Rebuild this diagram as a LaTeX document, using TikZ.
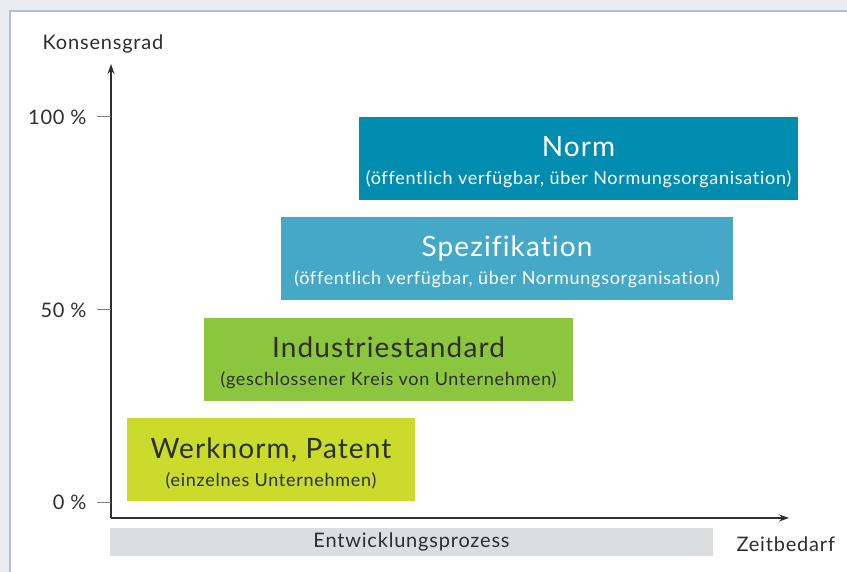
\documentclass[tikz,border=0pt]{standalone}
\usepackage{fontspec}
\setmainfont{Lato}[LetterSpace=4, Ligatures=NoCommon]
\usetikzlibrary{arrows.meta}

\definecolor{frameBg}{HTML}{E9EDF2}
\definecolor{frameLine}{HTML}{B4BFCC}
\definecolor{normBlue}{HTML}{008DB0}
\definecolor{specBlue}{HTML}{45A8C7}
\definecolor{industryGreen}{HTML}{8CC63F}
\definecolor{workLime}{HTML}{CADB2B}
\definecolor{barGray}{HTML}{DCDDDF}
\definecolor{textDark}{HTML}{2E2E2E}

\newcommand{\subline}[1]{{\fontsize{18}{20}\selectfont #1}}
\newcommand{\topstrut}{\rule{0pt}{28pt}}

\begin{document}
\begin{tikzpicture}[x=1pt, y=-1pt,
                    level/.style={minimum height=83pt, inner sep=0pt, align=center,
                                  font=\fontsize{28}{31}\selectfont},
                    axislabel/.style={text=textDark, font=\fontsize{20}{22}\selectfont}]

  % === Frame ===
  \useasboundingbox (0,0) rectangle (847,572);
  \clip (0,0) rectangle (847,572);
  \fill[frameBg] (0,0) rectangle (847,572);
  \draw[frameLine, fill=white, line width=1.5pt] (10,11) rectangle (880,600);

  % === Axes ===
  \coordinate (origin) at (111,518);
  \coordinate (ytip) at (111,64);
  \coordinate (xtip) at (789,518);

  \draw[textDark, line width=1.1pt, -{Stealth[length=10pt,width=7pt]}] (origin) -- (ytip);
  \draw[textDark, line width=1.1pt, -{Stealth[length=10pt,width=7pt]}] (origin) -- (xtip);

  \node[axislabel] (consensus) at (103,44) {Konsensgrad};
  \node[axislabel, anchor=west] (timeneed) at (733,544) {Zeitbedarf};

  % ticks on the consensus axis
  \foreach \y/\lab in {502/0, 310/50, 117/100} {
    \draw[gray, line width=1pt] (97,\y) -- (111,\y);
    \node[axislabel, anchor=east] (tick\lab) at (90,\y) {\lab~\%};
  }

  % === Development bar ===
  \node[fill=barGray, minimum width=603pt, minimum height=28pt, inner sep=0pt,
        axislabel] (process) at (411.5,542) {Entwicklungsprozess};

  % === Levels (draw from bottom to top) ===
  \node[level, fill=workLime, text=textDark, minimum width=288pt]
    (worknorm) at (271,459.5) {\topstrut Werknorm, Patent\\[-3pt]\subline{(einzelnes Unternehmen)}};
  \node[level, fill=industryGreen, text=textDark, minimum width=369pt]
    (industry) at (388.5,359.5) {\topstrut Industriestandard\\[-3pt]\subline{(geschlossener Kreis von Unternehmen)}};
  \node[level, fill=specBlue, text=white, minimum width=452pt]
    (spec) at (507,258.5) {\topstrut Spezifikation\\[-3pt]\subline{(öffentlich verfügbar, über Normungsorganisation)}};
  \node[level, fill=normBlue, text=white, minimum width=439pt]
    (norm) at (578.5,158.5) {\topstrut Norm\\[-3pt]\subline{(öffentlich verfügbar, über Normungsorganisation)}};

\end{tikzpicture}
\end{document}
